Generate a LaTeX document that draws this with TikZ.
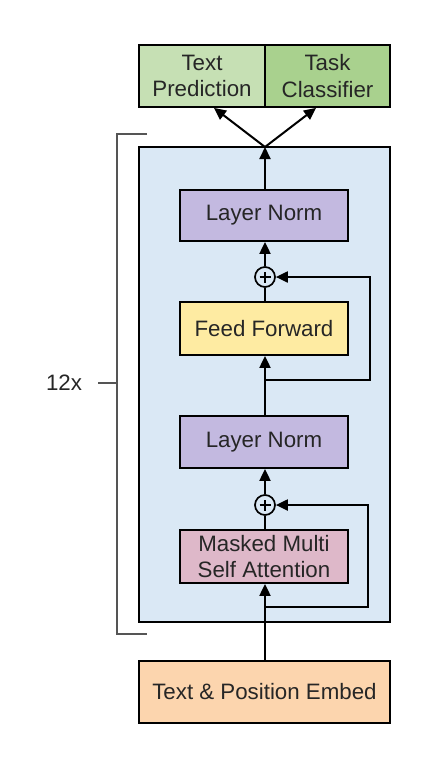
\documentclass[tikz,border=0pt]{standalone}
\usepackage{fontspec}
\setmainfont{Liberation Sans}
\usetikzlibrary{arrows.meta}
\definecolor{cpred}{HTML}{C6E0B4}
\definecolor{ccls}{HTML}{A9D18E}
\definecolor{cblock}{HTML}{DAE8F5}
\definecolor{cnorm}{HTML}{C3B9E0}
\definecolor{cff}{HTML}{FEEBA2}
\definecolor{catt}{HTML}{DEB8C9}
\definecolor{cemb}{HTML}{FCD5AE}
\definecolor{cbrk}{HTML}{555555}
\tikzset{
  box/.style={draw=black, line width=1.8pt, inner sep=0pt, align=center,
    font=\fontsize{22.3}{26.5}\selectfont, text=black!85},
  addnode/.style={circle, draw=black, line width=1.7pt, minimum size=20pt, inner sep=0pt,
    path picture={
      \draw[line width=1.6pt] ([xshift=-5.5pt]path picture bounding box.center) -- ([xshift=5.5pt]path picture bounding box.center);
      \draw[line width=1.6pt] ([yshift=-5.5pt]path picture bounding box.center) -- ([yshift=5.5pt]path picture bounding box.center);}},
  conn/.style={line width=2pt, draw=black},
  arr/.style={conn, -{Triangle[length=12pt,width=11pt]}},
  brk/.style={draw=cbrk, line width=1.1pt}
}
\begin{document}
\begin{tikzpicture}[x=1pt,y=-1pt]
\useasboundingbox (0,0) rectangle (430,758);
% main block
\node[box, fill=cblock, minimum width=251pt, minimum height=475pt] (block) at (264.5,384.5) {};
% top heads
\node[box, fill=cpred, minimum width=126pt, minimum height=62pt] (pred) at (202,76) {Text\\Prediction};
\node[box, fill=ccls, minimum width=125pt, minimum height=62pt] (cls) at (327.5,76) {Task\\Classifier};
% inner
\node[box, fill=cnorm, minimum width=168pt, minimum height=51pt] (ln1) at (264,215.5) {Layer Norm};
\node[addnode] (add1) at (265,277) {};
\node[box, fill=cff, minimum width=168pt, minimum height=53pt] (ff) at (264,328.5) {Feed Forward};
\node[box, fill=cnorm, minimum width=168pt, minimum height=52pt] (ln2) at (264,442) {Layer Norm};
\node[addnode] (add2) at (265,505) {};
\node[box, fill=catt, minimum width=168pt, minimum height=53pt] (att) at (264,556.5) {Masked Multi\\Self Attention};
\node[box, fill=cemb, minimum width=251pt, minimum height=62pt] (emb) at (264.5,692) {Text \& Position Embed};
% connectors
\coordinate (top) at (265,147);
\draw[arr] (emb.north -| 265,0) -- (att.south -| 265,0);
\draw[conn] (att.north -| 265,0) -- (add2.south);
\draw[arr] (add2.north) -- (ln2.south -| 265,0);
\draw[conn] (ln2.north -| 265,0) -- (265,385);
\draw[arr] (265,385) -- (ff.south -| 265,0);
\draw[conn] (ff.north -| 265,0) -- (add1.south);
\draw[arr] (add1.north) -- (ln1.south -| 265,0);
\draw[arr] (ln1.north -| 265,0) -- (top);
\draw[arr] (top) -- (pred.south -| 214,0);
\draw[arr] (top) -- (cls.south -| 316,0);
% residuals
\coordinate (r1) at (265,380);
\coordinate (r2) at (265,607);
\draw[arr] (r1) -- (370,380) -- (370,277) -- (add1.east);
\draw[arr] (r2) -- (368,607) -- (368,505) -- (add2.east);
% bracket
\draw[brk] (147,134) -- (117,134) -- (117,634) -- (147,634);
\coordinate (mid) at (117,383);
\draw[brk] (mid) -- (98,383);
\node[font=\fontsize{22.3}{26}\selectfont, text=black!85] (rep) at (64,383) {12x};
\end{tikzpicture}
\end{document}
